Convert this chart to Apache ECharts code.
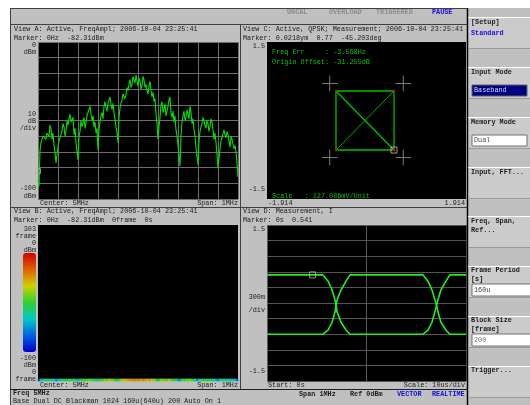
<!DOCTYPE html>
<html><head><meta charset="utf-8">
<script src="https://cdn.jsdelivr.net/npm/echarts@6/dist/echarts.min.js"></script>
<style>html,body{margin:0;padding:0;background:#fff}#c{width:530px;height:405px}</style>
</head><body><div id="c"></div>
<script>
// ---------- data ----------
// View A: spectrum trace, dBm, 201 points across span (center 5 MHz, span 1 MHz)
const specA = [
  -88,-92,-69,-64,-62,-60,-59,-61,-62,-58,-57,-60,-53,-55,-62,-58,-66,-70,-77,-72,
  -67,-63,-62,-59,-57,-52,-54,-60,-57,-50,-53,-49,-46,-51,-52,-48,-59,-55,-64,-70,
  -75,-60,-57,-50,-54,-51,-48,-55,-51,-47,-45,-44,-41,-46,-50,-47,-54,-51,-58,-55,
  -69,-56,-51,-47,-45,-49,-41,-38,-42,-44,-39,-37,-35,-40,-43,-39,-45,-49,-54,-58,
  -64,-48,-42,-39,-37,-33,-32,-36,-34,-29,-31,-27,-24,-29,-27,-22,-23,-26,-21,-25,
  -28,-23,-25,-30,-28,-22,-24,-29,-27,-31,-33,-28,-25,-31,-35,-32,-38,-36,-46,-52,
  -62,-54,-48,-40,-38,-45,-43,-39,-47,-44,-41,-37,-35,-45,-48,-44,-51,-47,-56,-60,
  -66,-72,-79,-60,-51,-47,-44,-50,-48,-43,-46,-49,-41,-45,-52,-49,-56,-60,-67,-73,
  -78,-63,-57,-54,-52,-48,-50,-53,-55,-50,-52,-57,-54,-49,-51,-56,-62,-58,-64,-72,
  -80,-74,-68,-63,-61,-58,-56,-59,-61,-57,-59,-63,-67,-60,-62,-65,-68,-66,-70,-77,
  -86];
const spanStartKHz = -500, spanStepKHz = 5;
const markerA = [-500, -82.31];

// View C: QPSK constellation
const iqPathI = [-0.587, 0.529, 0.529, -0.587, -0.587, 0.529];
const iqPathQ = [0.564, 0.564, -0.564, -0.564, 0.564, -0.564];
const iqDiagI = [0.529, -0.587];
const iqDiagQ = [0.564, -0.564];
const symI = [-0.587, 0.529, -0.587, 0.529];
const symQ = [0.564, 0.564, -0.564, -0.564];
const idealI = [-0.707, 0.707, -0.707, 0.707];
const idealQ = [0.707, 0.707, -0.707, -0.707];
const markerC = [0.529, -0.564];

// View D: I vs time (us)
const timeUs = [0, 28.1, 30.7, 32.7, 34.2, 34.7, 35.2, 37.2, 39.7, 41.7, 78.4, 80.9, 82.9, 84.4, 85.2, 85.9, 87.4, 89.9, 91.9, 100];
const traceD1 = [0.54, 0.54, 0.42, 0.25, 0.06, -0.04, -0.17, -0.37, -0.52, -0.6, -0.6, -0.52, -0.37, -0.17, -0.04, 0.06, 0.25, 0.42, 0.54, 0.54];
const traceD2 = [-0.6, -0.6, -0.52, -0.37, -0.17, -0.04, 0.06, 0.25, 0.42, 0.54, 0.54, 0.42, 0.25, 0.06, -0.04, -0.17, -0.37, -0.52, -0.6, -0.6];
const markerD = [22.9, 0.541];

// text labels
const statusFlags = ['UNCAL', 'OVERLOAD', 'TRIGGERED', 'PAUSE'];
const labelsA = ['0', 'dBm', '10', 'dB', '/div', '-100', 'dBm'];
const labelsB = ['303', 'frame', '0', 'dBm', '-100', 'dBm', '0', 'frame'];
const labelsC = ['1.5', '-1.5', '-1.914', '1.914'];
const labelsD = ['1.5', '300m', '/div', '-1.5'];

// ---------- build ----------
const FONT = '"Liberation Mono", "DejaVu Sans Mono", monospace';
const F = (sz, bold) => (bold ? 'bold ' : '') + sz + 'px ' + FONT;
const G = [];
function T(x, y, text, o) {
  o = o || {};
  G.push({type: 'text', x: x, y: y, z: o.z || 10, style: {text: text, fill: o.fill || '#1c1c1c',
    font: F(o.size || 6.8, o.bold), align: o.align || 'left', verticalAlign: 'middle'}});
}
function R(x, y, w, h, fill, o) {
  o = o || {};
  G.push({type: 'rect', z: o.z || 1, shape: {x: x, y: y, width: w, height: h},
    style: {fill: fill, stroke: o.stroke || null, lineWidth: o.lw || 1}});
}
function L(x1, y1, x2, y2, c, w, z) {
  G.push({type: 'line', z: z || 5, shape: {x1: x1, y1: y1, x2: x2, y2: y2}, style: {stroke: c, lineWidth: w || 1}});
}

// margins and frame
R(0, 0, 530, 8, '#ffffff');
R(0, 0, 10, 405, '#ffffff');
L(10, 8.5, 467, 8.5, '#404040');
L(10.5, 8, 10.5, 405, '#404040');
L(10, 24.5, 467, 24.5, '#404040');
L(240.5, 24, 240.5, 389, '#404040');
L(10, 207.5, 467, 207.5, '#404040');
L(10, 389.5, 467, 389.5, '#202020');
L(467.5, 8, 467.5, 405, '#000000', 1.5);

// status bar
T(287, 12.5, statusFlags[0], {bold: true, fill: '#8c8c8c'});
T(329, 12.5, statusFlags[1], {bold: true, fill: '#8c8c8c'});
T(376, 12.5, statusFlags[2], {bold: true, fill: '#8c8c8c'});
T(432, 12.5, statusFlags[3], {bold: true, fill: '#1010e0'});

// headers
T(14, 29, 'View A: Active, FreqAmpl; 2006-10-04 23:25:41');
T(14, 38, 'Marker: 0Hz  -82.31dBm');
T(243, 29, 'View C: Active, QPSK; Measurement; 2006-10-04 23:25:41');
T(243, 38, 'Marker: 0.0218ym  0.77  -45.203deg');
T(14, 211, 'View B: Active, FreqAmpl; 2006-10-04 23:25:41');
T(14, 220, 'Marker: 0Hz  -82.31dBm  0frame  0s');
T(243, 211, 'View D: Measurement, I');
T(243, 220, 'Marker: 0s  0.541');

// footers
T(40, 203, 'Center: 5MHz');
T(238, 203, 'Span: 1MHz', {align: 'right'});
T(268, 203, labelsC[2]);
T(465, 203, labelsC[3], {align: 'right'});
T(40, 385, 'Center: 5MHz');
T(238, 385, 'Span: 1MHz', {align: 'right'});
T(268, 385, 'Start: 0s');
T(465, 385, 'Scale: 10us/div', {align: 'right'});

// side labels
[45, 52, 114, 121, 128, 188, 196].forEach((y, i) => T(36, y, labelsA[i], {align: 'right'}));
[229, 236, 243, 250, 358, 365, 372, 379].forEach((y, i) => T(36, y, labelsB[i], {align: 'right'}));
T(265, 46, labelsC[0], {align: 'right'});
T(265, 189, labelsC[1], {align: 'right'});
[229, 297, 310, 371].forEach((y, i) => T(265, y, labelsD[i], {align: 'right'}));

// constellation annotations
T(272, 52, 'Freq Err     : -3.568Hz', {fill: '#10c010', z: 50});
T(272, 62, 'Origin Offset: -31.255dB', {fill: '#10c010', z: 50});
T(272, 196, 'Scale   : 127.086mV/Unit', {fill: '#10c010', z: 50});

// bottom status
T(13, 393, 'Freq 5MHz', {bold: true});
T(13, 401, 'Base Dual DC Blackman 1024 160u(640u) 200 Auto On 1');
T(299, 394, 'Span 1MHz', {bold: true});
T(350, 394, 'Ref 0dBm', {bold: true});
T(397, 394, 'VECTOR', {bold: true, fill: '#1010e0'});
T(432, 394, 'REALTIME', {bold: true, fill: '#1010e0'});

// right softkey panel
[17, 67, 117, 167, 216, 266, 316, 366].forEach(t => {
  R(468, t, 62, 31, '#cbcbcb');
  L(468, t + 0.5, 530, t + 0.5, '#ffffff', 1, 6);
  L(468, t + 31.5, 530, t + 31.5, '#9a9a9a', 1, 6);
});
T(471, 22, '[Setup]', {bold: true});
T(471, 33, 'Standard', {bold: true, fill: '#1010e0'});
T(471, 72, 'Input Mode', {bold: true});
R(472, 85, 55, 11, '#000080', {stroke: '#606060', z: 7});
R(528, 84, 3, 13, '#d0d0d0', {z: 7});
T(474, 90.5, 'Baseband', {fill: '#d8d8ff', z: 12});
T(471, 122, 'Memory Mode', {bold: true});
R(472, 135, 55, 11, '#ffffff', {stroke: '#707070', z: 7});
R(528, 134, 3, 13, '#d0d0d0', {z: 7});
T(474, 140.5, 'Dual', {fill: '#505050', z: 12});
T(471, 172, 'Input, FFT...', {bold: true});
T(471, 221, 'Freq, Span,', {bold: true});
T(471, 230, 'Ref...', {bold: true});
T(471, 270, 'Frame Period', {bold: true});
T(471, 279, '[s]', {bold: true});
R(472, 284, 60, 12, '#ffffff', {stroke: '#707070', z: 7});
T(474, 290, '160u', {fill: '#404040', z: 12});
T(471, 320, 'Block Size', {bold: true});
T(471, 329, '[frame]', {bold: true});
R(472, 334, 60, 12, '#ffffff', {stroke: '#707070', z: 7});
T(474, 340, '200', {fill: '#707070', z: 12});
T(471, 370, 'Trigger...', {bold: true});

// ---------- axes ----------
const noAx = {axisLine: {show: false}, axisTick: {show: false}, axisLabel: {show: false}};
const gridLine = c => ({show: true, lineStyle: {color: c, width: 1}});
const grids = [
  {left: 38, top: 42, width: 200, height: 157},
  {left: 267, top: 42, width: 199, height: 157},
  {left: 38, top: 225, width: 200, height: 156},
  {left: 267, top: 225, width: 199, height: 156}
].map(g => Object.assign({show: true, backgroundColor: '#000000', borderWidth: 0, containLabel: false}, g));

const frameRows = Array.from({length: 78}, (_, i) => i);
const binIdx = specA.map((_, i) => i);

const xAxis = [
  Object.assign({type: 'value', gridIndex: 0, min: -500, max: 500, interval: 100, splitLine: gridLine('#6e6e6e')}, noAx),
  Object.assign({type: 'value', gridIndex: 1, min: -1.914, max: 1.914, splitLine: {show: false}}, noAx),
  Object.assign({type: 'category', gridIndex: 2, data: binIdx, splitLine: {show: false}}, noAx),
  Object.assign({type: 'value', gridIndex: 3, min: 0, max: 100, interval: 50, splitLine: gridLine('#5a5a5a')}, noAx)
];
const yAxis = [
  Object.assign({type: 'value', gridIndex: 0, min: -100, max: 0, interval: 10, splitLine: gridLine('#6e6e6e')}, noAx),
  Object.assign({type: 'value', gridIndex: 1, min: -1.5, max: 1.5, splitLine: {show: false}}, noAx),
  Object.assign({type: 'category', gridIndex: 2, data: frameRows, splitLine: {show: false}}, noAx),
  Object.assign({type: 'value', gridIndex: 3, min: -1.5, max: 1.5, interval: 0.3, splitLine: gridLine('#555555')}, noAx)
];

// ---------- series ----------
const series = [];
const lineS = (xi, data, color, w, z) => ({type: 'line', xAxisIndex: xi, yAxisIndex: xi, data: data,
  symbol: 'none', lineStyle: {color: color, width: w}, z: z || 3, silent: true, animation: false});

// A
series.push(lineS(0, specA.map((v, i) => [spanStartKHz + i * spanStepKHz, v]), '#00e000', 1.1));
series.push({type: 'scatter', xAxisIndex: 0, yAxisIndex: 0, data: [markerA], symbol: 'rect', symbolSize: 5,
  itemStyle: {color: 'transparent', borderColor: '#b0b0b0', borderWidth: 1}, z: 5, animation: false});

// B heatmap (frame 0 only)
const heatIndex = series.length;
series.push({type: 'heatmap', xAxisIndex: 2, yAxisIndex: 2, data: specA.map((v, i) => [i, 0, v]), animation: false});

// C
const arm = 0.15;
idealI.forEach((ci, k) => {
  const cq = idealQ[k];
  series.push(lineS(1, [[ci - arm, cq], [ci + arm, cq]], '#7a7a7a', 1, 2));
  series.push(lineS(1, [[ci, cq - arm], [ci, cq + arm]], '#7a7a7a', 1, 2));
});
series.push(lineS(1, iqPathI.map((v, i) => [v, iqPathQ[i]]), '#00c000', 1.3, 4));
series.push(lineS(1, iqDiagI.map((v, i) => [v, iqDiagQ[i]]), '#00a800', 1, 4));
series.push({type: 'scatter', xAxisIndex: 1, yAxisIndex: 1, data: symI.map((v, i) => [v, symQ[i]]),
  symbolSize: 3, itemStyle: {color: '#e00000'}, z: 6, animation: false});
series.push({type: 'scatter', xAxisIndex: 1, yAxisIndex: 1, data: [markerC], symbol: 'rect', symbolSize: 6,
  itemStyle: {color: 'transparent', borderColor: '#c0c0c0', borderWidth: 1}, z: 7, animation: false});

// D
series.push(lineS(3, timeUs.map((t, i) => [t, traceD1[i]]), '#22ee22', 1.6, 4));
series.push(lineS(3, timeUs.map((t, i) => [t, traceD2[i]]), '#22ee22', 1.6, 4));
series.push({type: 'scatter', xAxisIndex: 3, yAxisIndex: 3, data: [markerD], symbol: 'rect', symbolSize: 6,
  itemStyle: {color: 'transparent', borderColor: '#b0b0b0', borderWidth: 1}, z: 7, animation: false});

const chart = echarts.init(document.getElementById('c'), null, {renderer: 'canvas'});
chart.setOption({
  backgroundColor: '#c0c0c0',
  animation: false,
  grid: grids, xAxis: xAxis, yAxis: yAxis,
  visualMap: {type: 'continuous', min: -100, max: 0, seriesIndex: heatIndex, calculable: false,
    left: 23, top: 253, itemWidth: 13, itemHeight: 99, padding: 0, text: null, showLabel: false,
    inRange: {color: ['#0000c8', '#0060e0', '#00c8c8', '#30d030', '#d0d000', '#e06000', '#d00000']}},
  graphic: G,
  series: series
});
</script></body></html>
